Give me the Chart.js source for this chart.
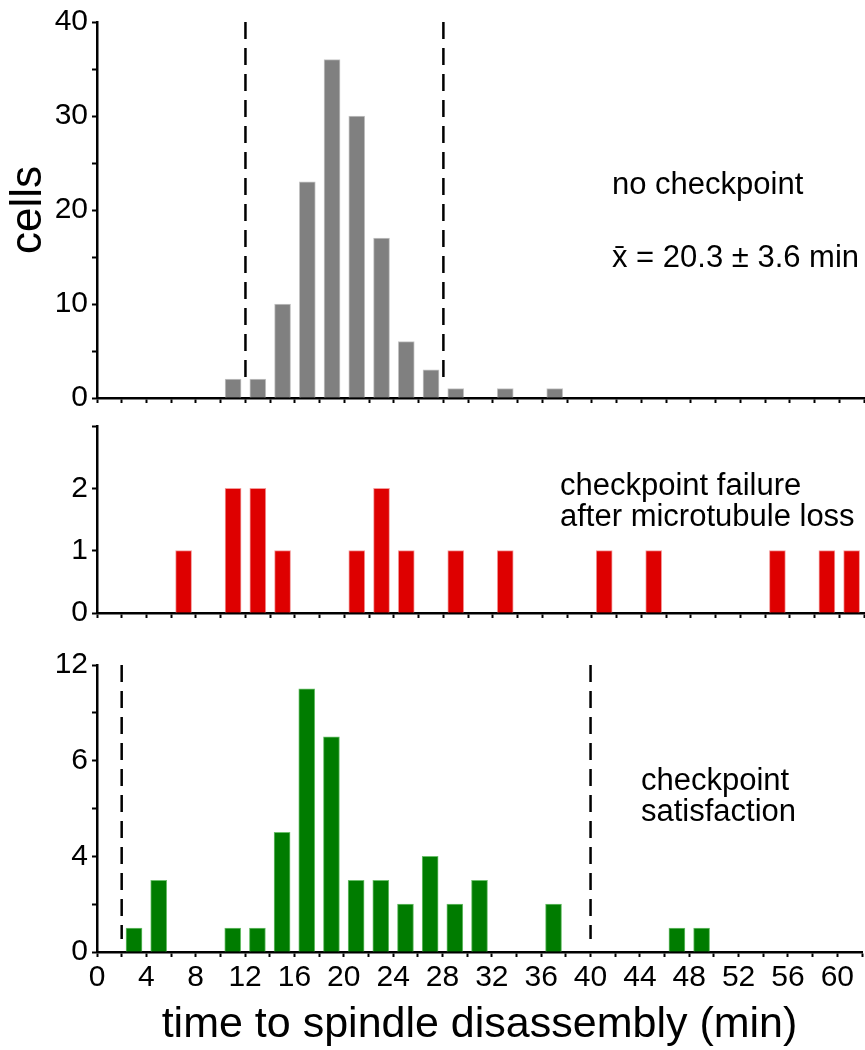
<!DOCTYPE html>
<html>
<head>
<meta charset="utf-8">
<script src="https://cdn.jsdelivr.net/npm/chart.js@4.4.1/dist/chart.umd.min.js"></script>
<style>
	body { margin: 0; background: #fff; }
	#wrap { position: relative; width: 865px; height: 1050px; }
	canvas { position: absolute; left: 0; }
</style>
</head>
<body>
<div id="wrap">
	<canvas id="noCheck" width="865" height="420" style="top:0px"></canvas>
	<canvas id="failure" width="865" height="235" style="top:400px"></canvas>
	<canvas id="satisfied" width="865" height="415" style="top:635px"></canvas>
</div>
<script>
// bin centres (min) and cell counts
const noCheckTimes = [11, 13, 15, 17, 19, 21, 23, 25, 27, 29, 33, 37];
const noCheckCells = [2, 2, 10, 23, 36, 30, 17, 6, 3, 1, 1, 1];
const noCheckCutoffs = [12, 28];

const failureTimes = [7, 11, 13, 15, 21, 23, 25, 29, 33, 41, 45, 55, 59, 61];
const failureCells = [1, 2, 2, 1, 1, 2, 1, 1, 1, 1, 1, 1, 1, 1];

const satisfiedTimes = [3, 5, 11, 13, 15, 17, 19, 21, 23, 25, 27, 29, 31, 37, 47, 49];
const satisfiedCells = [1, 3, 1, 1, 5, 11, 9, 3, 3, 2, 4, 2, 3, 2, 1, 1];
const satisfiedCutoffs = [2, 40];

// tick labels
const xTickLabels = ['0', '4', '8', '12', '16', '20', '24', '28', '32', '36', '40', '44', '48', '52', '56', '60'];
const noCheckYTicks = [0, 10, 20, 30, 40];
const noCheckYLabels = ['0', '10', '20', '30', '40'];
const failureYTicks = [0, 1, 2];
const failureYLabels = ['0', '1', '2'];
const satisfiedYTicks = [0, 4, 8, 12];
const satisfiedYLabels = ['0', '4', '6', '12'];

const FONT = "'Liberation Sans', Arial, Helvetica, sans-serif";
Chart.defaults.color = '#000';
Chart.defaults.font.family = FONT;

const cutoffLines = {
	id: 'cutoffLines',
	afterDatasetsDraw(chart, args, opts) {
		if (!opts.values) return;
		const {ctx, chartArea, scales} = chart;
		ctx.save();
		ctx.strokeStyle = '#000';
		ctx.lineWidth = 2.5;
		ctx.setLineDash([17, 9]);
		opts.values.forEach(v => {
			const px = scales.x.getPixelForValue(v);
			ctx.beginPath();
			ctx.moveTo(px, chartArea.top);
			ctx.lineTo(px, chartArea.bottom - 13);
			ctx.stroke();
		});
		ctx.restore();
	}
};

const notes = {
	id: 'notes',
	afterDraw(chart, args, opts) {
		if (!opts.lines) return;
		const ctx = chart.ctx;
		ctx.save();
		ctx.fillStyle = '#000';
		ctx.font = opts.size + 'px ' + FONT;
		ctx.textBaseline = 'middle';
		ctx.textAlign = 'left';
		opts.lines.forEach(l => ctx.fillText(l.text, l.x, l.y));
		ctx.restore();
	}
};

function panel(id, times, cells, fill, edge, y, x, extra) {
	return new Chart(document.getElementById(id), {
		type: 'bar',
		data: {
			datasets: [{
				data: times.map((t, i) => ({x: t, y: cells[i]})),
				backgroundColor: fill,
				borderColor: edge,
				borderWidth: 1,
				barThickness: 16
			}]
		},
		plugins: [cutoffLines, notes],
		options: {
			responsive: false,
			animation: false,
			layout: {padding: {top: extra.top, right: 1, left: 0, bottom: 0}},
			scales: {
				x: {
					type: 'linear',
					min: 0,
					max: 62,
					offset: false,
					grid: {offset: false, drawOnChartArea: false, drawTicks: true, tickLength: 5, tickWidth: 2, tickColor: '#000'},
					border: {color: '#000', width: 2.5},
					ticks: {
						display: x.labels,
						stepSize: 2,
						autoSkip: false,
						maxRotation: 0,
						padding: 3,
						font: {size: 30},
						callback: v => xTickLabels.includes(String(v)) ? String(v) : ''
					},
					title: {
						display: !!x.title,
						text: x.title,
						font: {size: 43},
						padding: {top: 0, bottom: -1}
					},
					afterFit: s => { s.height = x.height; }
				},
				y: {
					min: 0,
					max: y.max,
					grid: {drawOnChartArea: false, drawTicks: true, tickLength: 5, tickWidth: 2, tickColor: '#000'},
					border: {color: '#000', width: 2.5},
					ticks: {
						stepSize: y.step,
						autoSkip: false,
						padding: 4,
						font: {size: 30},
						callback: v => {
							const i = y.ticks.indexOf(v);
							return i >= 0 ? y.labels[i] : '';
						}
					},
					title: {
						display: !!y.title,
						text: y.title,
						font: {size: 44},
						padding: {top: 2, bottom: 0}
					},
					afterFit: s => { s.width = 97; }
				}
			},
			plugins: {
				legend: {display: false},
				tooltip: {enabled: false},
				cutoffLines: {values: extra.cutoffs},
				notes: {size: 31, lines: extra.notes}
			}
		}
	});
}

panel('noCheck', noCheckTimes, noCheckCells, '#808080', '#c4c4c4',
	{max: 40, step: 5, ticks: noCheckYTicks, labels: noCheckYLabels, title: 'cells'},
	{labels: false, height: 19},
	{top: 18, cutoffs: noCheckCutoffs, notes: [
		{text: 'no checkpoint', x: 612, y: 185},
		{text: 'x\u0304 = 20.3 \u00b1 3.6 min', x: 612, y: 258}
	]});

panel('failure', failureTimes, failureCells, '#de0000', '#f39a9a',
	{max: 3, step: 1, ticks: failureYTicks, labels: failureYLabels},
	{labels: false, height: 18},
	{top: 26, notes: [
		{text: 'checkpoint failure', x: 560, y: 86},
		{text: 'after microtubule loss', x: 560, y: 117}
	]});

panel('satisfied', satisfiedTimes, satisfiedCells, '#007c00', '#6cbf6c',
	{max: 12, step: 2, ticks: satisfiedYTicks, labels: satisfiedYLabels},
	{labels: true, height: 98, title: 'time to spindle disassembly (min)'},
	{top: 30, cutoffs: satisfiedCutoffs, notes: [
		{text: 'checkpoint', x: 641, y: 146},
		{text: 'satisfaction', x: 641, y: 177}
	]});
</script>
</body>
</html>
